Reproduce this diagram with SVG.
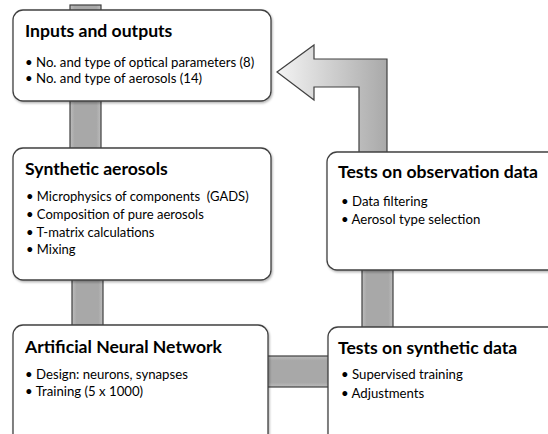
<svg xmlns="http://www.w3.org/2000/svg" width="548" height="434" viewBox="0 0 548 434">
<style>
.box{fill:#fff;stroke:#404040;stroke-width:1.3}
.bar{fill:url(#barV);stroke:#404040;stroke-width:1.2}
.barh{fill:url(#barH);stroke:#404040;stroke-width:1.2}
.t{font-family:Lato,"Liberation Sans",sans-serif;font-weight:bold;font-size:17.6px;fill:#000}
.b{font-family:Lato,"Liberation Sans",sans-serif;font-size:13.2px;fill:#000}
.b2{font-family:Lato,"Liberation Sans",sans-serif;font-size:13px;fill:#000}
</style>
<defs>
<linearGradient id="barV" x1="0" y1="0" x2="1" y2="0">
<stop offset="0" stop-color="#bdbdbd"/><stop offset="0.15" stop-color="#a8a8a8"/><stop offset="0.85" stop-color="#a8a8a8"/><stop offset="1" stop-color="#bdbdbd"/>
</linearGradient>
<linearGradient id="barH" x1="0" y1="0" x2="0" y2="1">
<stop offset="0" stop-color="#bdbdbd"/><stop offset="0.15" stop-color="#a8a8a8"/><stop offset="0.85" stop-color="#a8a8a8"/><stop offset="1" stop-color="#bdbdbd"/>
</linearGradient>
<linearGradient id="arrowG" x1="277" y1="0" x2="387" y2="0" gradientUnits="userSpaceOnUse">
<stop offset="0" stop-color="#f4f4f4"/><stop offset="1" stop-color="#a9a9a9"/>
</linearGradient>
<filter id="sh" x="-5%" y="-5%" width="115%" height="115%">
<feDropShadow dx="1" dy="1.5" stdDeviation="1" flood-color="#000" flood-opacity="0.3"/>
</filter>
</defs>
<g id="connectors">
<rect class="bar" x="70" y="5" width="31" height="150"/>
<rect class="bar" x="72" y="272" width="31" height="60"/>
<rect class="barh" x="262" y="356" width="72" height="31"/>
<rect class="bar" x="362" y="262" width="31" height="70"/>
<path d="M277,72 L314,45 L314,59 L387,59 L387,153 L359,153 L359,87 L314,87 L314,100 Z" fill="url(#arrowG)" stroke="#404040" stroke-width="1.2" stroke-linejoin="miter"/>
</g>
<g id="inputs">
<rect class="box" filter="url(#sh)" x="13" y="10" width="258" height="91" rx="10"/>
<text class="t" x="25" y="37">Inputs and outputs</text>
<text class="b" x="25" y="67">• No. and type of optical parameters (8)</text>
<text class="b" x="25" y="83">• No. and type of aerosols (14)</text>
</g>
<g id="synthetic">
<rect class="box" filter="url(#sh)" x="13" y="148" width="258" height="132" rx="10"/>
<text class="t" x="25" y="175">Synthetic aerosols</text>
<text class="b2" x="26" y="201" xml:space="preserve">• Microphysics of components  (GADS)</text>
<text class="b2" x="26" y="219">• Composition of pure aerosols</text>
<text class="b2" x="26" y="237">• T-matrix calculations</text>
<text class="b2" x="26" y="254">• Mixing</text>
</g>
<g id="observation">
<rect class="box" filter="url(#sh)" x="327" y="152" width="240" height="118" rx="10"/>
<text class="t" x="338" y="178">Tests on observation data</text>
<text class="b" x="341" y="206">• Data filtering</text>
<text class="b" x="341" y="224">• Aerosol type selection</text>
</g>
<g id="ann">
<rect class="box" filter="url(#sh)" x="13" y="325" width="255" height="130" rx="10"/>
<text class="t" x="25" y="353">Artificial Neural Network</text>
<text class="b" x="25" y="379">• Design: neurons, synapses</text>
<text class="b" x="25" y="396">• Training (5 x 1000)</text>
</g>
<g id="synthdata">
<rect class="box" filter="url(#sh)" x="328" y="327" width="240" height="130" rx="10"/>
<text class="t" x="338" y="354">Tests on synthetic data</text>
<text class="b" x="341" y="379">• Supervised training</text>
<text class="b" x="341" y="398">• Adjustments</text>
</g>
</svg>
